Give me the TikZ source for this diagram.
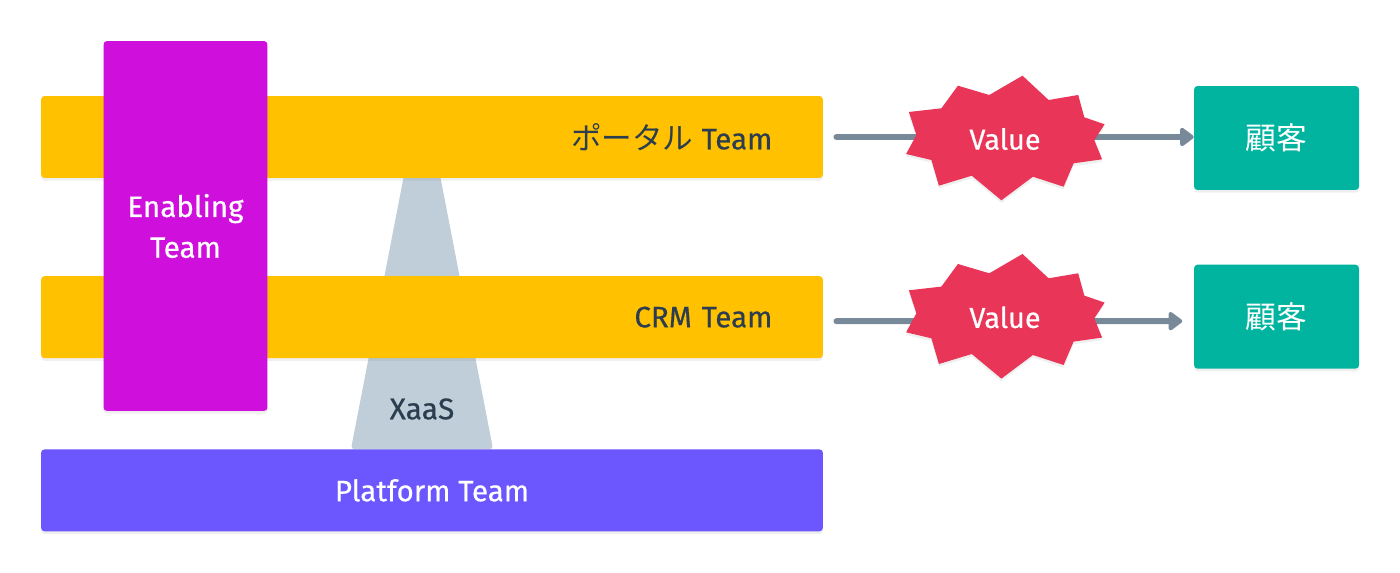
\documentclass[tikz,border=0pt]{standalone}
\usepackage{fontspec}
\setmainfont{Fira Sans}[FakeBold=0.5]
\newfontfamily\cjk{Noto Sans CJK JP}
\usetikzlibrary{arrows.meta,positioning,shadows}

\definecolor{barcol}{HTML}{FFC100}
\definecolor{enablecol}{HTML}{CF10DD}
\definecolor{platformcol}{HTML}{6C57FF}
\definecolor{xaascol}{HTML}{BFCED9}
\definecolor{burstcol}{HTML}{E93558}
\definecolor{customercol}{HTML}{00B4A0}
\definecolor{flowcol}{HTML}{78899A}
\definecolor{inkcol}{HTML}{2B3D4F}

\begin{document}
\begin{tikzpicture}[
    x=0.02cm, y=-0.02cm,
    soft/.style={drop shadow={opacity=0.12, shadow xshift=0pt, shadow yshift=-1.5pt}},
    team/.style={rounded corners=2pt, soft, inner sep=0pt, font=\fontsize{16.8}{23.2}\selectfont},
    stream/.style={team, fill=barcol, text=inkcol, minimum width=15.64cm, minimum height=1.64cm, text width=13.62cm, align=right},
    enabling/.style={team, fill=enablecol, text=white, minimum width=3.28cm, minimum height=7.4cm, align=center},
    platform/.style={team, fill=platformcol, text=white, minimum width=15.64cm, minimum height=1.64cm},
    customer/.style={team, fill=customercol, text=white, minimum width=3.3cm, minimum height=2.08cm, font=\cjk\fontsize{17.5}{18}\selectfont},
    support/.style={fill=xaascol, soft, rounded corners=2pt},
    flow/.style={line width=3.4pt, draw=flowcol, line cap=round, -{Triangle[length=8.5pt, width=12pt, round]}},
    value burst/.pic={
        \fill[burstcol, soft] (17.5,-63.3) -- (43.6,-39) -- (73.2,-44) -- (79.3,-21.7) -- (99.6,-14.7)
            -- (89.3,1) -- (97.1,20.3) -- (68.6,24.3) -- (58.6,47.7) -- (27.9,37.7) -- (-3.6,61.3)
            -- (-33.2,36.7) -- (-66.1,46.7) -- (-73.6,21) -- (-98.9,15) -- (-88.6,-4) -- (-96.1,-27)
            -- (-63.6,-30.7) -- (-47.1,-53.3) -- (-15.7,-44) -- cycle;
        \node[text=white, font=\fontsize{16.4}{18}\selectfont] (-text) at (0,0) {Value};
    }
]
    \useasboundingbox[fill=white] (0,0) rectangle (1400,573);

    % the support goes first so that the bars cover it
    \fill[support] (405,170) -- (439,170) -- (493,449) -- (351,449) -- cycle;
    \node[text=inkcol, font=\fontsize{17}{18}\selectfont] (xaastext) at (422,409) {XaaS};

    \node[stream] (portal) at (432,137) {{\cjk\fontsize{17.4}{18}\selectfont ポータル}\hspace{-1pt} Team};
    \node[stream, below=1.95cm of portal] (crm) {CRM Team};
    \node[platform, below=1.81cm of crm] (base) {Platform Team};
    \node[enabling] (enable) at (185.5,226) {Enabling\\Team};

    \node[customer, right=7.41cm of portal, yshift=-0.02cm] (cust1) {顧客};
    \node[customer, below=1.48cm of cust1] (cust2) {顧客};

    \draw[flow, shorten <=7.5pt] (portal.east) -- ([yshift=0.02cm]cust1.west);
    \draw[flow, shorten <=7.5pt, shorten >=6.5pt] ([yshift=-0.08cm]crm.east) -- ([yshift=-0.09cm]cust2.west);

    \pic (val1) at (1005,139) {value burst};
    \pic (val2) at (1005,317.3) {value burst};
\end{tikzpicture}
\end{document}
